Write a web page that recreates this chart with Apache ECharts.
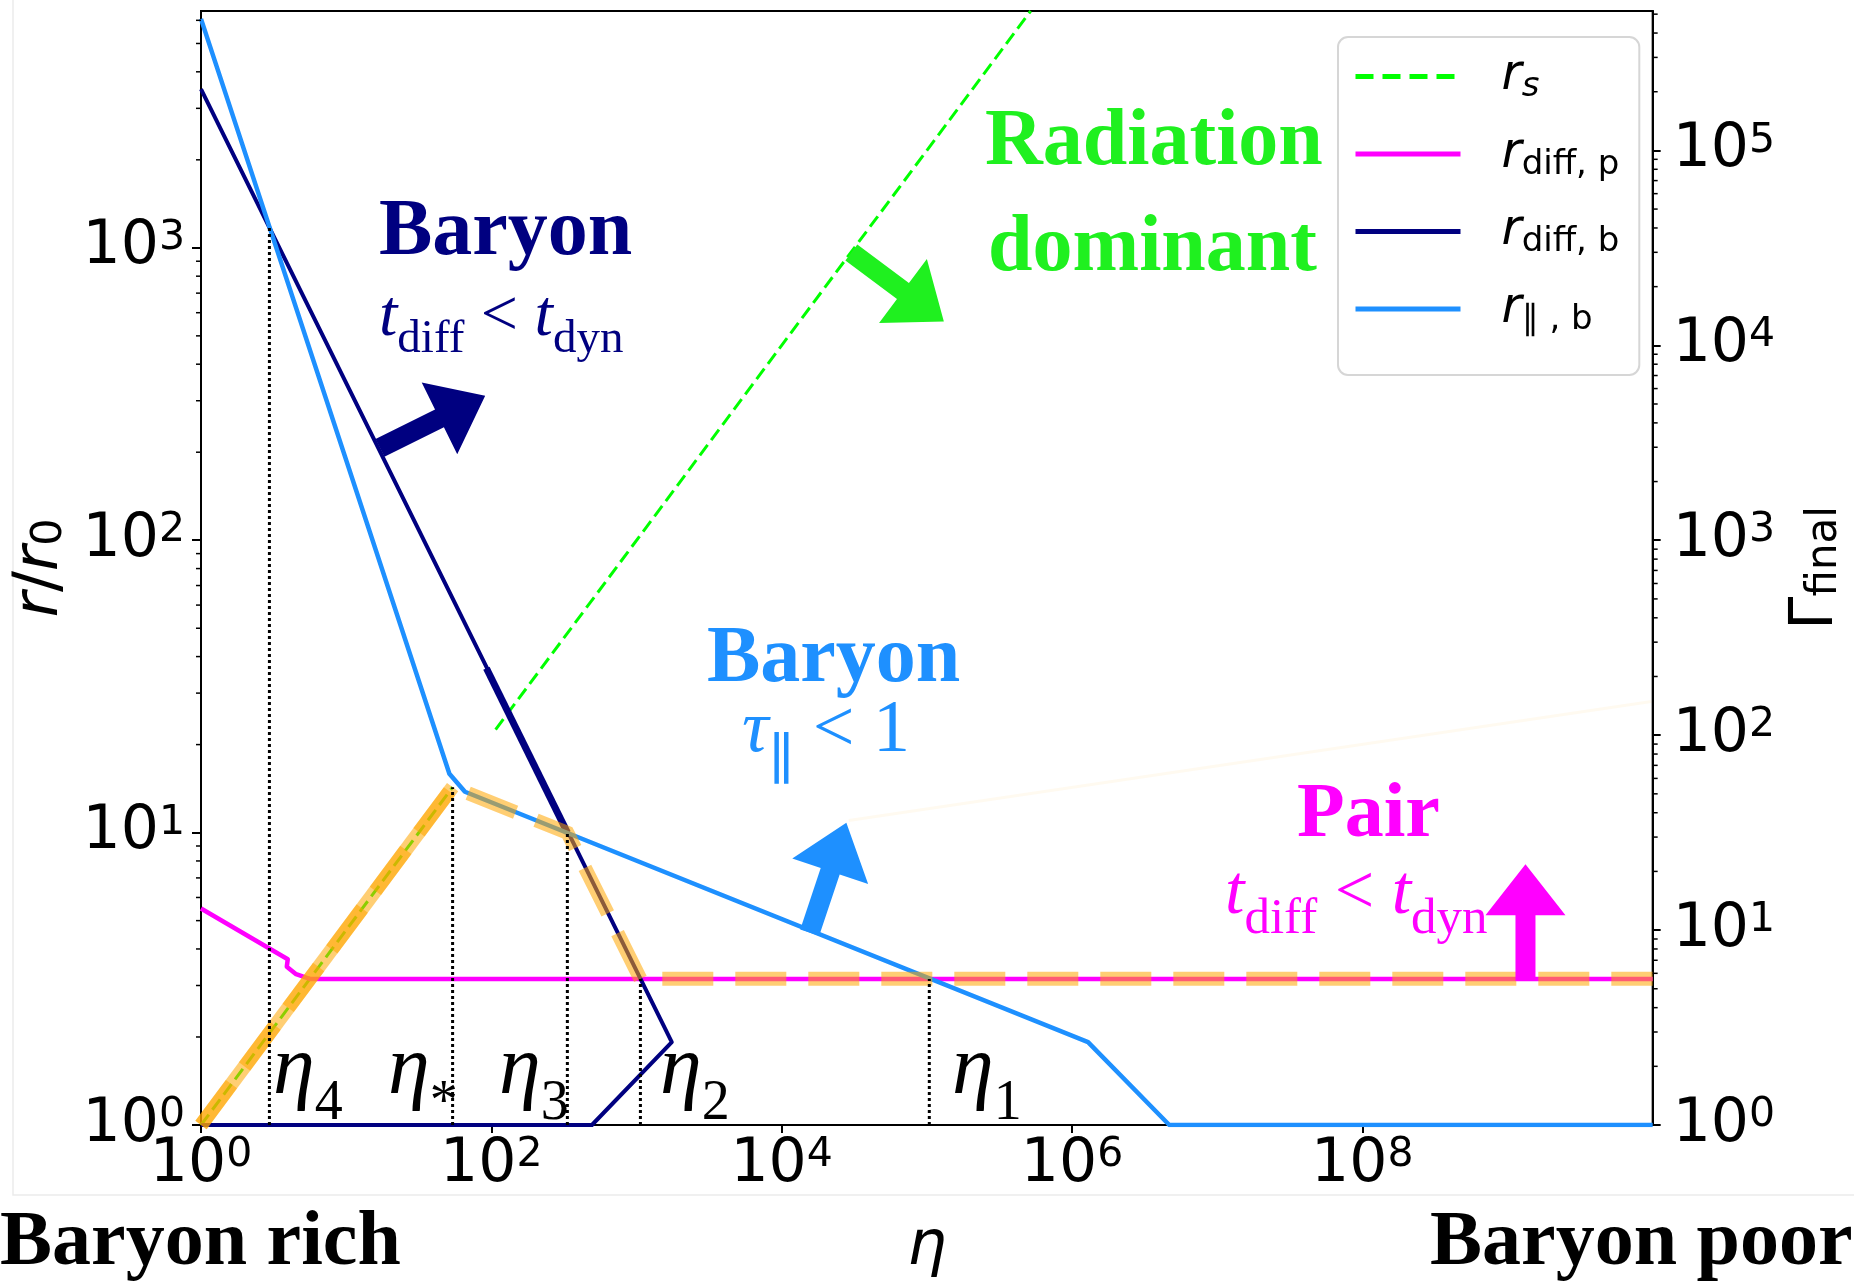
<!DOCTYPE html>
<html>
<head>
<meta charset="utf-8">
<title>Photospheric radii versus eta</title>
<script src="https://cdn.jsdelivr.net/npm/echarts@6/dist/echarts.min.js"></script>
<style>
  html, body { margin: 0; padding: 0; background: #fff; }
  #chart { width: 1854px; height: 1284px; }
</style>
</head>
<body>
<div id="chart"></div>
<script>
// ---- radii r/r0 against eta, as [eta, r/r0] pairs ----
const rsLow       = [[1, 1], [54.1, 14.3]];
const rsHigh      = [[107, 22.5], [5.19e5, 6457]];
const rDiffP      = [[1, 5.50], [3.96, 3.69], [3.90, 3.48], [4.52, 3.28], [5.30, 3.19], [5.62, 3.16], [1e10, 3.16]];
const rDiffB      = [[1, 3491], [1750, 1.92], [493, 1], [1, 1]];
const rDiffBTrace = [[92.5, 36.5], [334, 10]];
const rParB       = [[1, 6067], [51.4, 15.9], [65.8, 13.8], [1.29e6, 1.92], [4.68e6, 1], [1e10, 1]];

// ---- final Lorentz factor (right axis), as [eta, Gamma] pairs ----
const gammaRise  = [[1, 1], [54.1, 54.1]];
const gammaFinal = [[1, 1], [54.1, 54.1], [334, 31.6], [1064, 5.62], [1e10, 5.62]];
const gammaFaint = [[2.9e4, 36.5], [9.8e9, 149]];

// ---- characteristic eta values and where each guide stops ----
const etaLabels = ['4', '*', '3', '2', '1'];
const etaValues = [2.96, 54.1, 334, 1064, 1.04e5];
const etaTops   = [1175, 14.3, 10, 3.16, 3.16];

// ---- axes ----
const etaTicks    = [1, 1e2, 1e4, 1e6, 1e8];
const radiusTicks = [1, 10, 100, 1000];
const gammaTicks  = [1, 10, 100, 1000, 1e4, 1e5];
const etaRange    = [1, 1e10];
const radiusRange = [1, 6457];
const gammaRange  = [1, 5.19e5];
const minorMantissas = [2, 3, 4, 5, 6, 7, 8, 9];

const NAVY = '#000080', SKY = '#1e90ff', MAG = '#ff00ff', LIME = '#00ff00',
      LIME_TXT = '#1ff01f', ORANGE = '#ffa500';
const FS = "'DejaVu Sans', sans-serif";
const SERIF = "'Liberation Serif', 'DejaVu Serif', serif";

function powLabel(v) {
  const e = Math.log10(v), k = Math.round(e);
  if (Math.abs(e - k) > 1e-6) return '';
  return '{b|10}{s|' + k + '}';
}
const tickRich = {
  b: { fontFamily: FS, fontSize: 60, lineHeight: 60, color: '#000' },
  s: { fontFamily: FS, fontSize: 41, lineHeight: 40, verticalAlign: 'top', color: '#000' }
};

function curve(name, data, color, width, extra) {
  return Object.assign({
    type: 'line', name: name, data: data, symbol: 'none', silent: true,
    animation: false, clip: true, z: 2,
    lineStyle: { color: color, width: width, cap: 'butt', join: 'round' },
    itemStyle: { color: color },
    emphasis: { disabled: true }
  }, extra || {});
}

const series = [
  curve('rs', rsLow, LIME, 3, { lineStyle: { color: LIME, width: 3, type: [13, 6] } }),
  curve('rs', rsHigh, LIME, 3, { lineStyle: { color: LIME, width: 3, type: [13, 6] } }),
  curve('rdp', rDiffP, MAG, 4.5),
  curve('rdb', rDiffB, NAVY, 4),
  curve('rdb', rDiffBTrace, NAVY, 7),
  curve('rpb', rParB, SKY, 4.5),
  curve('gammaFaint', gammaFaint, ORANGE, 3, { yAxisIndex: 1, z: 3,
    lineStyle: { color: ORANGE, width: 3, opacity: 0.06 } }),
  curve('gammaRise', gammaRise, ORANGE, 14, { yAxisIndex: 1, z: 3,
    lineStyle: { color: ORANGE, width: 14, opacity: 0.55, cap: 'butt' } }),
  curve('gammaFinal', gammaFinal, ORANGE, 14, { yAxisIndex: 1, z: 3,
    lineStyle: { color: ORANGE, width: 14, opacity: 0.55, type: [51, 22], cap: 'butt', join: 'miter' } })
];
etaValues.forEach(function (e, i) {
  series.push(curve('guide' + i, [[e, 1], [e, etaTops[i]]], '#000', 3,
    { z: 5, lineStyle: { color: '#000', width: 3, type: [3, 3] } }));
});

const legendText = {
  rs:  '{g| }{i|r}{si|s}',
  rdp: '{g| }{i|r}{s|diff, p}',
  rdb: '{g| }{i|r}{s|diff, b}',
  rpb: '{g| }{i|r}{s|∥ , b}'
};

const axisBase = {
  type: 'log', logBase: 10,
  axisLine: { show: true, onZero: false, lineStyle: { color: '#000', width: 2 } },
  splitLine: { show: false },
  minorTick: { show: false },
  minorSplitLine: { show: false }
};

const option = {
  backgroundColor: '#fff',
  animation: false,
  grid: { left: 201, right: 192, top: 11, bottom: 158, show: true,
          borderColor: '#000', borderWidth: 2, backgroundColor: 'transparent' },
  xAxis: Object.assign({}, axisBase, {
    min: etaRange[0], max: etaRange[1],
    name: 'η', nameLocation: 'middle', nameGap: 92,
    nameTextStyle: { fontFamily: FS, fontStyle: 'italic', fontSize: 62, lineHeight: 62, color: '#000' },
    axisTick: { show: true, length: 8, lineStyle: { color: '#000', width: 2 }, customValues: etaTicks },
    axisLabel: { margin: 10, customValues: etaTicks, formatter: powLabel, rich: tickRich }
  }),
  yAxis: [
    Object.assign({}, axisBase, {
      position: 'left', min: radiusRange[0], max: radiusRange[1],
      name: '{i|r}{u|/}{i|r}{s|0}', nameLocation: 'middle', nameRotate: 90, nameGap: 128,
      nameTextStyle: { rich: {
        i: { fontFamily: FS, fontStyle: 'italic', fontSize: 62, lineHeight: 62, color: '#000' },
        u: { fontFamily: FS, fontSize: 62, lineHeight: 62, color: '#000' },
        s: { fontFamily: FS, fontSize: 43, lineHeight: 30, verticalAlign: 'bottom', color: '#000' }
      } },
      axisTick: { show: true, length: 9, lineStyle: { color: '#000', width: 2 }, customValues: radiusTicks },
      axisLabel: { margin: 16, customValues: radiusTicks, formatter: powLabel, rich: tickRich }
    }),
    Object.assign({}, axisBase, {
      position: 'right', min: gammaRange[0], max: gammaRange[1],
      name: '{u|Γ}{s|final}', nameLocation: 'middle', nameRotate: 90, nameGap: 122,
      nameTextStyle: { rich: {
        u: { fontFamily: FS, fontSize: 60, lineHeight: 60, color: '#000' },
        s: { fontFamily: FS, fontSize: 42, lineHeight: 30, verticalAlign: 'bottom', color: '#000' }
      } },
      axisTick: { show: true, length: 8, lineStyle: { color: '#000', width: 2 }, customValues: gammaTicks },
      axisLabel: { margin: 20, customValues: gammaTicks, formatter: powLabel, rich: tickRich }
    })
  ],
  legend: {
    data: [
      { name: 'rs',  lineStyle: { width: 5, type: [18, 9] } },
      { name: 'rdp', lineStyle: { width: 5 } },
      { name: 'rdb', lineStyle: { width: 5 } },
      { name: 'rpb', lineStyle: { width: 5 } }
    ],
    orient: 'vertical', left: 1338, top: 37, padding: [15, 20, 34, 15],
    itemWidth: 105, itemHeight: 14, itemGap: 21,
    backgroundColor: '#fff', borderColor: '#d6d6d6', borderWidth: 2, borderRadius: 10,
    selectedMode: false,
    itemStyle: { opacity: 0, borderWidth: 0 },
    lineStyle: { width: 5 },
    formatter: function (n) { return legendText[n]; },
    textStyle: { rich: {
      g:  { width: 36 },
      i:  { fontFamily: FS, fontStyle: 'italic', fontSize: 49, lineHeight: 64, color: '#000' },
      s:  { fontFamily: FS, fontSize: 34, height: 42, lineHeight: 42, verticalAlign: 'bottom', color: '#000' },
      si: { fontFamily: FS, fontStyle: 'italic', fontSize: 34, height: 42, lineHeight: 42, verticalAlign: 'bottom', color: '#000' }
    } }
  },
  series: series
};

const chart = echarts.init(document.getElementById('chart'));
chart.setOption(option);

// ---------- annotations ----------
function toPx(eta, r) { return chart.convertToPixel({ xAxisIndex: 0, yAxisIndex: 0 }, [eta, r]); }

function arrowPoints(p0, p1, shaftW, headL, headW) {
  const dx = p1[0] - p0[0], dy = p1[1] - p0[1], L = Math.hypot(dx, dy);
  const ux = dx / L, uy = dy / L, nx = -uy, ny = ux;
  const bx = p1[0] - ux * headL, by = p1[1] - uy * headL;
  return [
    [p0[0] + nx * shaftW / 2, p0[1] + ny * shaftW / 2],
    [bx + nx * shaftW / 2, by + ny * shaftW / 2],
    [bx + nx * headW / 2, by + ny * headW / 2],
    [p1[0], p1[1]],
    [bx - nx * headW / 2, by - ny * headW / 2],
    [bx - nx * shaftW / 2, by - ny * shaftW / 2],
    [p0[0] - nx * shaftW / 2, p0[1] - ny * shaftW / 2]
  ];
}

// arrows anchored in data space: tail on a curve, head into the region
const arrows = [
  { from: [17.1, 207],    to: [90.7, 312],    color: NAVY },
  { from: [3.02e4, 964],  to: [1.31e5, 560],  color: LIME_TXT },
  { from: [1.56e4, 4.55], to: [2.79e4, 10.8], color: SKY },
  { from: [1.33e9, 3.11], to: [1.33e9, 7.79], color: MAG }
];

function text(x, baseline, F, str, extra) {
  return { type: 'text', silent: true, z: 100, style: Object.assign({
    text: str, x: x, y: baseline - 0.3375 * F,
    fontSize: F, fontFamily: SERIF,
    align: 'left', verticalAlign: 'middle', textAlign: 'left', textVerticalAlign: 'middle'
  }, extra || {}) };
}
// main glyphs of size F; subscripts of size S sit in a box of height H at the line bottom
function subRich(F, S, H, color) {
  return {
    t: { fontFamily: SERIF, fontStyle: 'italic', fontSize: F, lineHeight: F, fill: color, color: color },
    m: { fontFamily: SERIF, fontSize: F, lineHeight: F, fill: color, color: color },
    s: { fontFamily: SERIF, fontSize: S, height: H, lineHeight: H, verticalAlign: 'bottom', fill: color, color: color }
  };
}

const graphics = [];

// faint frame of the figure
graphics.push({ type: 'polyline', silent: true, z: 0,
  shape: { points: [[13, 0], [13, 1195], [1854, 1195]] },
  style: { stroke: '#ebebeb', lineWidth: 1.5, fill: null } });

// minor ticks on both logarithmic y axes
const leftX = toPx(1, 1)[0];
const rightX = chart.convertToPixel({ xAxisIndex: 0 }, etaRange[1]);
[[0, radiusRange[1], leftX, -5], [1, gammaRange[1], rightX, 5]].forEach(function (a) {
  for (let p = 1; p <= a[1]; p *= 10) {
    minorMantissas.forEach(function (m) {
      const v = m * p;
      if (v >= a[1]) return;
      const y = chart.convertToPixel({ yAxisIndex: a[0] }, v);
      graphics.push({ type: 'line', silent: true, z: 50,
        shape: { x1: a[2], y1: y, x2: a[2] + a[3], y2: y },
        style: { stroke: '#000', lineWidth: 1.5 } });
    });
  }
});

arrows.forEach(function (a) {
  graphics.push({ type: 'polygon', silent: true, z: 90,
    shape: { points: arrowPoints(toPx(a.from[0], a.from[1]), toPx(a.to[0], a.to[1]), 20, 51, 80) },
    style: { fill: a.color } });
});

// region labels
graphics.push(text(379, 260, 80, 'Baryon', { fill: NAVY, fontWeight: 'bold' }));
graphics.push(text(379, 340, 66, '{t|t}{s|diff}{m| < }{t|t}{s|dyn}',
  { fill: NAVY, rich: subRich(66, 47, 22, NAVY) }));
graphics.push(text(985, 170, 80, 'Radiation', { fill: LIME_TXT, fontWeight: 'bold' }));
graphics.push(text(988, 276, 80, 'dominant', { fill: LIME_TXT, fontWeight: 'bold' }));
graphics.push(text(707, 687, 80, 'Baryon', { fill: SKY, fontWeight: 'bold' }));
graphics.push(text(742, 757, 74, '{t|τ}{s|∥}{m| < 1}',
  { fill: SKY, rich: subRich(74, 56, 12, SKY) }));
graphics.push(text(1297, 842, 78, 'Pair', { fill: MAG, fontWeight: 'bold' }));
graphics.push(text(1225, 918, 70, '{t|t}{s|diff}{m| < }{t|t}{s|dyn}',
  { fill: MAG, rich: subRich(70, 51, 20, MAG) }));
graphics.push(text(0, 1270, 78, 'Baryon rich', { fill: '#000', fontWeight: 'bold' }));
graphics.push(text(1430, 1270, 78, 'Baryon poor', { fill: '#000', fontWeight: 'bold' }));

// eta labels next to the guides
const etaLabelX = [273, 388, 499, 660, 952];
etaLabels.forEach(function (s, i) {
  graphics.push(text(etaLabelX[i], 1099, 84, '{t|η}{s|' + s + '}',
    { fill: '#000', rich: subRich(84, 56, 17, '#000') }));
});

chart.setOption({ graphic: graphics });
</script>
</body>
</html>
